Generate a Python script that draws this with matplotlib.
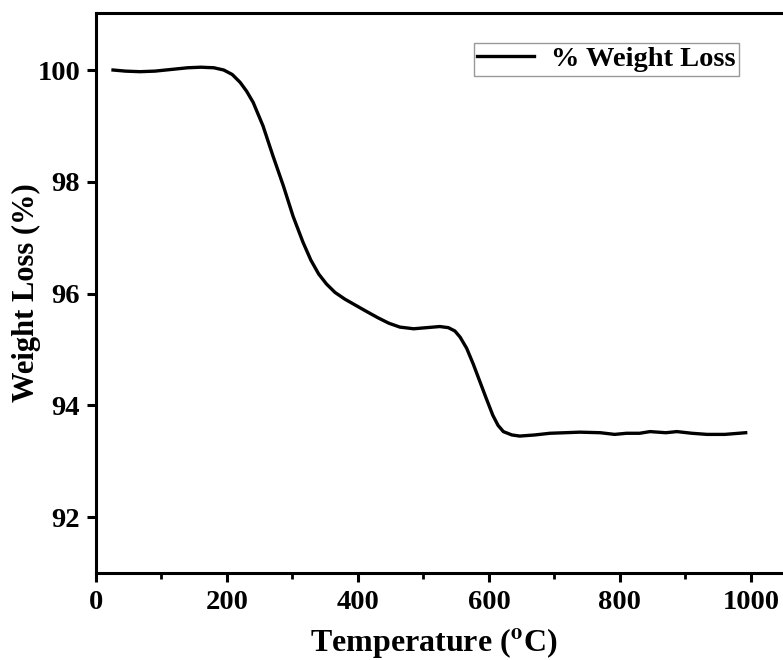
import matplotlib
matplotlib.use("Agg")
import matplotlib.pyplot as plt
from matplotlib.ticker import MultipleLocator

# TGA curve
temperatura = [26, 45, 67, 90, 115, 140, 160, 180, 195, 208, 220, 230, 240, 255,
               270, 286, 301, 316, 328, 340, 352, 365, 380, 395, 410, 430, 447,
               464, 485, 505, 525, 538, 548, 556, 566, 576, 586, 596, 606, 614,
               622, 635, 647, 670, 693, 739, 770, 792, 810, 830, 846, 870, 887,
               910, 933, 960, 992]
perdida = [100.0, 99.98, 99.97, 99.98, 100.01, 100.04, 100.05, 100.04, 100.0,
           99.92, 99.78, 99.62, 99.42, 99.0, 98.47, 97.93, 97.38, 96.92, 96.6,
           96.35, 96.17, 96.02, 95.9, 95.8, 95.7, 95.57, 95.47, 95.4, 95.37,
           95.39, 95.41, 95.39, 95.33, 95.22, 95.02, 94.74, 94.43, 94.12, 93.82,
           93.64, 93.53, 93.47, 93.45, 93.47, 93.5, 93.52, 93.51, 93.48, 93.5,
           93.5, 93.53, 93.51, 93.53, 93.5, 93.48, 93.48, 93.51]

plt.rcParams['font.family'] = ['Liberation Serif', 'DejaVu Serif']
plt.rcParams['font.weight'] = 'bold'
plt.rcParams['mathtext.fontset'] = 'stix'

fig = plt.figure(figsize=(7.83, 6.6), dpi=100)
ax = fig.add_axes([96 / 783, 87 / 660, 1 - 96 / 783, (573 - 13) / 660])

ax.plot(temperatura, perdida, color='black', linewidth=2.4, label='% Weight Loss',
        solid_joinstyle='round')

ax.set_xlim(0, 1049)
ax.set_ylim(91, 101.02)
ax.xaxis.set_major_locator(MultipleLocator(200))
ax.xaxis.set_minor_locator(MultipleLocator(100))
ax.yaxis.set_major_locator(MultipleLocator(2))

for lado in ['left', 'bottom', 'top']:
    ax.spines[lado].set_linewidth(2.2)
ax.spines['right'].set_visible(False)

ax.tick_params(which='major', direction='out', length=6.5, width=2.2,
               labelsize=20.5)
ax.tick_params(axis='y', which='major', pad=5)
ax.tick_params(axis='x', which='major', pad=6)
ax.tick_params(which='minor', direction='out', length=4, width=2.0)
ax.tick_params(axis='x', which='both', top=False)
ax.tick_params(axis='y', which='both', right=False)

ax.set_xlabel(r'Temperature ($^{\mathbf{o}}$C)', fontsize=23, fontweight='bold')
ax.xaxis.set_label_coords((434 - 96) / 687, -0.095)
ax.set_ylabel('Weight Loss (%)', fontsize=22, fontweight='bold')
ax.yaxis.set_label_coords(-0.08, 0.5)

leg = ax.legend(loc='upper right', bbox_to_anchor=((739 - 96) / 687, 1 - 30 / 560),
                bbox_transform=ax.transAxes, fontsize=20.5, frameon=True, fancybox=False,
                handlelength=2.0, borderpad=0.12, handletextpad=0.6, borderaxespad=0)
leg.get_frame().set_edgecolor('#808080')
leg.get_frame().set_linewidth(1.0)

fig.savefig('out.png', dpi=100)
